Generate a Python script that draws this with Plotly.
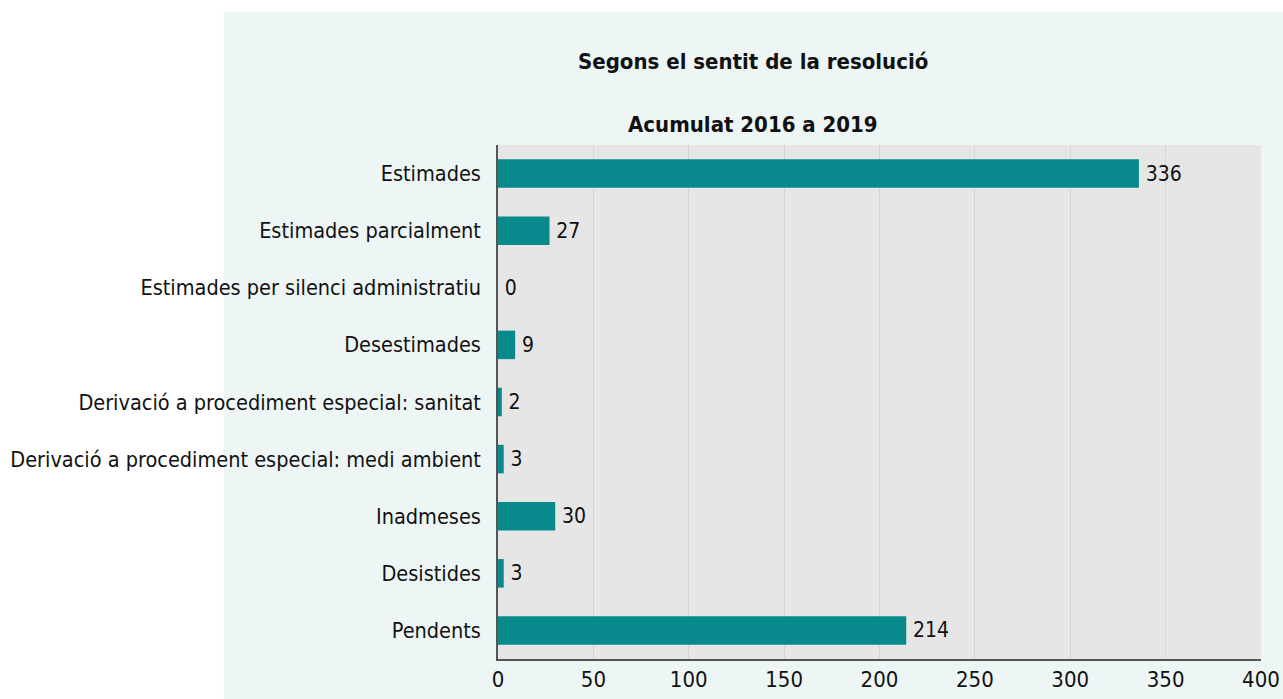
import plotly.graph_objects as go

# Resolutions by outcome, accumulated 2016-2019
categories = [
    "Estimades",
    "Estimades parcialment",
    "Estimades per silenci administratiu",
    "Desestimades",
    "Derivació a procediment especial: sanitat",
    "Derivació a procediment especial: medi ambient",
    "Inadmeses",
    "Desistides",
    "Pendents",
]
values = [336, 27, 0, 9, 2, 3, 30, 3, 214]
x_ticks = [0, 50, 100, 150, 200, 250, 300, 350, 400]

FONT = "DejaVu Sans Condensed, Liberation Sans Narrow, sans-serif"
BAR = "#088a8c"
TXT = "#111111"

fig = go.Figure(
    go.Bar(
        x=values,
        y=categories,
        orientation="h",
        marker=dict(color=BAR, line=dict(width=0)),
        width=0.5,
        text=["\u2009" + str(v) for v in values],
        textposition="outside",
        cliponaxis=False,
        textfont=dict(family=FONT, size=21, color=TXT),
    )
)

fig.update_layout(
    width=1283,
    height=699,
    margin=dict(l=498, r=22, t=145, b=40, autoexpand=False),
    paper_bgcolor="white",
    plot_bgcolor="#e6e6e6",
    showlegend=False,
    font=dict(family=FONT, size=21, color=TXT),
    shapes=[
        # mint panel behind the chart
        dict(
            type="rect", xref="paper", yref="paper",
            x0=-0.3596, x1=1.05, y0=-0.1, y1=1.2588,
            fillcolor="#edf6f5", line=dict(width=0), layer="below",
        ),
        # grey plotting area
        dict(
            type="rect", xref="paper", yref="paper",
            x0=0, x1=1, y0=0, y1=1,
            fillcolor="#e6e6e6", line=dict(width=0), layer="below",
        ),
    ],
    annotations=[
        dict(text="<b>Segons el sentit de la resolució</b>", xref="paper", yref="paper",
             x=0.3345, y=1.1634, xanchor="center", yanchor="middle", showarrow=False,
             font=dict(family=FONT, size=22, color=TXT)),
        dict(text="<b>Acumulat 2016 a 2019</b>", xref="paper", yref="paper",
             x=0.3345, y=1.039, xanchor="center", yanchor="middle", showarrow=False,
             font=dict(family=FONT, size=22, color=TXT)),
    ],
)

fig.update_xaxes(
    range=[0, 400],
    tickvals=x_ticks,
    showgrid=True,
    gridcolor="#d6d6d6",
    gridwidth=1,
    zeroline=False,
    showline=True,
    linecolor="#555555",
    linewidth=1.5,
    ticks="",
    ticklabelstandoff=0,
    automargin=False,
    tickfont=dict(family=FONT, size=22, color=TXT),
)
fig.update_yaxes(
    autorange="reversed",
    showgrid=False,
    showline=True,
    linecolor="#555555",
    linewidth=1.5,
    ticks="",
    ticklabelstandoff=11,
    automargin=False,
    tickfont=dict(family=FONT, size=21.5, color=TXT),
)

fig.write_html("out.html")
